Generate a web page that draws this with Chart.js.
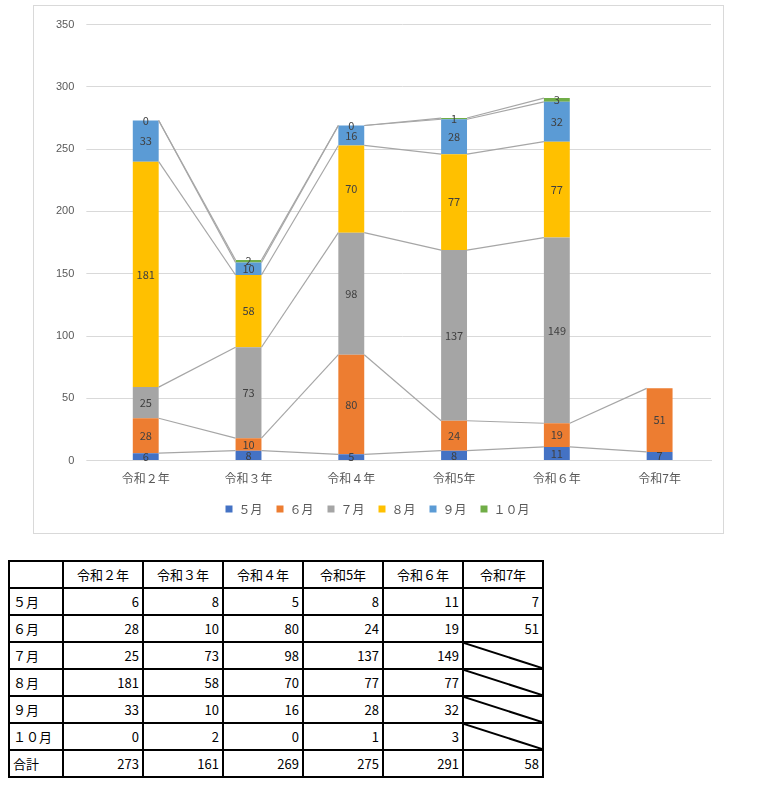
<!DOCTYPE html>
<html><head><meta charset="utf-8">
<script src="https://cdn.jsdelivr.net/npm/chart.js@4"></script>
<style>
body{margin:0;background:#fff;font-family:"Noto Sans CJK JP","Noto Sans",sans-serif;}
#box{position:absolute;left:33px;top:5px;width:691px;height:529px;border:1px solid #d9d9d9;box-sizing:border-box;}
table{position:absolute;left:8px;top:560px;border-collapse:collapse;font-size:13px;color:#000;}
td{border:2px solid #000;height:27px;padding:0 3px;text-align:right;width:72px;box-sizing:border-box;}
td:first-child{width:54px;text-align:left;}
td{width:80px}
tr:first-child td{text-align:center;}
td.d{background:url("data:image/svg+xml;utf8,<svg xmlns='http://www.w3.org/2000/svg' viewBox='0 0 100 100' preserveAspectRatio='none'><line x1='0' y1='0' x2='100' y2='100' stroke='black' stroke-width='2' vector-effect='non-scaling-stroke'/></svg>") no-repeat;background-size:100% 100%;}
</style></head><body>
<div id="box"><canvas id="c" width="689" height="527"></canvas></div>
<table id="t"></table>
<script>
const categories=["令和２年","令和３年","令和４年","令和5年","令和６年","令和7年"];
const seriesNames=["５月","６月","７月","８月","９月","１０月"];
const may=[6,8,5,8,11,7];
const jun=[28,10,80,24,19,51];
const jul=[25,73,98,137,149,null];
const aug=[181,58,70,77,77,null];
const sep=[33,10,16,28,32,null];
const oct=[0,2,0,1,3,null];
const totals=[273,161,269,275,291,58];
const colors=["#4472C4","#ED7D31","#A5A5A5","#FFC000","#5B9BD5","#70AD47"];
const all=[may,jun,jul,aug,sep,oct];

const plug={id:"x",afterDatasetsDraw(ch){
  const ctx=ch.ctx,y=ch.scales.y;
  ctx.save();ctx.strokeStyle="#a6a6a6";ctx.lineWidth=1.2;
  const cum=categories.map(()=>0);
  all.forEach((arr,di)=>{
    const m=ch.getDatasetMeta(di);
    const tops=arr.map((v,i)=>v==null?null:(cum[i]+=v));
    for(let i=0;i<arr.length-1;i++){
      if(tops[i]==null||tops[i+1]==null)continue;
      const a=m.data[i],b=m.data[i+1];
      ctx.beginPath();ctx.moveTo(a.x+a.width/2,y.getPixelForValue(tops[i]));
      ctx.lineTo(b.x-b.width/2,y.getPixelForValue(tops[i+1]));ctx.stroke();
    }
  });
  ctx.fillStyle="#404040";ctx.font="11px 'Noto Sans CJK JP'";ctx.textAlign="center";ctx.textBaseline="middle";
  all.forEach((arr,di)=>{
    const m=ch.getDatasetMeta(di);
    arr.forEach((v,i)=>{if(v==null)return;const e=m.data[i];ctx.fillText(v,e.x,(e.y+e.base)/2);});
  });
  ctx.restore();
}};
new Chart(document.getElementById("c"),{type:"bar",
 data:{labels:categories,datasets:all.map((d,i)=>({label:seriesNames[i],data:d,backgroundColor:colors[i],barPercentage:0.42,categoryPercentage:0.6}))},
 options:{responsive:false,animation:false,devicePixelRatio:1,
  layout:{padding:{left:10,right:12,top:12,bottom:8}},
  plugins:{tooltip:{enabled:false},legend:{position:"bottom",labels:{boxWidth:7,boxHeight:7,color:"#595959",font:{size:12,family:"Noto Sans CJK JP"},padding:14}}},
  scales:{x:{stacked:true,grid:{display:false},border:{color:"#d9d9d9"},ticks:{color:"#595959",font:{size:12,family:"Noto Sans CJK JP"}}},
   y:{stacked:true,min:0,max:350,ticks:{stepSize:50,color:"#595959",font:{size:11},padding:12},grid:{color:"#d9d9d9"},border:{display:false}}}}
 ,plugins:[plug]});
(function(){
 const t=document.getElementById("t");
 let h="<tr><td></td>"+categories.map(c=>"<td>"+c+"</td>").join("")+"</tr>";
 all.forEach((arr,i)=>{h+="<tr><td>"+seriesNames[i]+"</td>"+arr.map(v=>v==null?'<td class="d"></td>':"<td>"+v+"</td>").join("")+"</tr>";});
 h+="<tr><td>合計</td>"+totals.map(v=>"<td>"+v+"</td>").join("")+"</tr>";
 t.innerHTML=h;
})();
</script>
</body></html>
